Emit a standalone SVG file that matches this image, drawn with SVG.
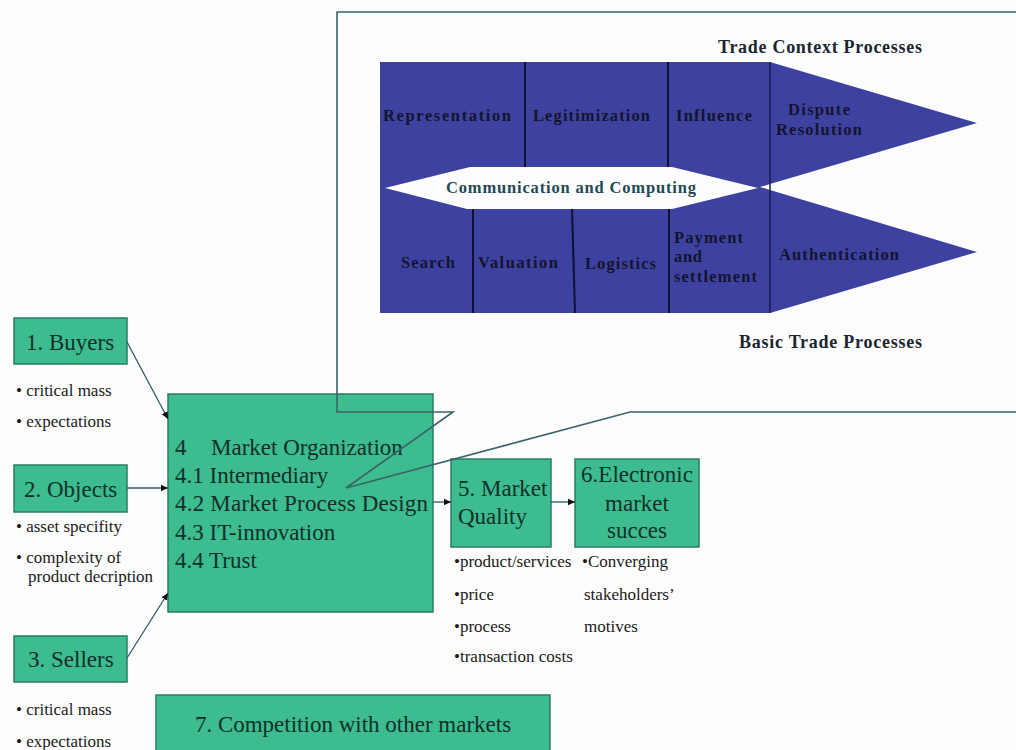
<svg xmlns="http://www.w3.org/2000/svg" width="1016" height="750" viewBox="0 0 1016 750">
<style>
.bg{fill:#fdfdfd}
.blue{fill:#3d42a0}
.div{stroke:#101030;stroke-width:2;fill:none}
.bt{font-family:"Liberation Serif","Times New Roman",serif;font-size:16.5px;font-weight:bold;fill:#14142c}
.hd{font-family:"Liberation Serif","Times New Roman",serif;font-size:18px;font-weight:bold;fill:#1a2630}
.box{fill:#3dbc8f;stroke:#2b7a66;stroke-width:1.5}
.bx{font-family:"Liberation Serif","Times New Roman",serif;font-size:23px;fill:#12302a}
.sm{font-family:"Liberation Serif","Times New Roman",serif;font-size:17px;fill:#1a1a1a}
.frame{fill:none;stroke:#3a6468;stroke-width:1.6}
.con{fill:none;stroke:#2d5a66;stroke-width:1.3}
</style>
<defs>
<marker id="ah" markerWidth="8" markerHeight="8" refX="7" refY="4" orient="auto" markerUnits="userSpaceOnUse">
<path d="M0,0.8 L7,4 L0,7.2 Z" fill="#111"/>
</marker>
</defs>
<rect class="bg" x="0" y="0" width="1016" height="750"/>

<g id="trade-processes">
<path class="blue" d="M380,62 L770,62 L977,123 L770,184 L770,190 L977,252 L770,313 L380,313 Z"/>
<polygon points="770,184 770,190 760,187" fill="#fdfdfd"/>
<line class="div" x1="525" y1="62" x2="525" y2="168"/>
<line class="div" x1="668" y1="62" x2="668" y2="168"/>
<line class="div" x1="473" y1="208" x2="473" y2="313"/>
<line class="div" x1="572" y1="208" x2="575" y2="313"/>
<line class="div" x1="669" y1="208" x2="669" y2="313"/>
<line x1="770" y1="62" x2="770" y2="313" stroke="#1a1a50" stroke-width="1.5"/>
<polygon points="385,188 470,167 672,167 758,188 672,209 467,209" fill="#fdfdfd"/>
<text class="bt" x="383" y="121" textLength="128" lengthAdjust="spacing">Representation</text>
<text class="bt" x="533" y="121" textLength="117" lengthAdjust="spacing">Legitimization</text>
<text class="bt" x="676" y="121" textLength="76" lengthAdjust="spacing">Influence</text>
<text class="bt" x="788" y="115" textLength="62" lengthAdjust="spacing">Dispute</text>
<text class="bt" x="776" y="135" textLength="86" lengthAdjust="spacing">Resolution</text>
<text class="bt" x="446" y="193" textLength="250" lengthAdjust="spacing" style="fill:#1f4a55">Communication and Computing</text>
<text class="bt" x="401" y="268" textLength="54" lengthAdjust="spacing">Search</text>
<text class="bt" x="478" y="268" textLength="80" lengthAdjust="spacing">Valuation</text>
<text class="bt" x="585" y="269" textLength="71" lengthAdjust="spacing">Logistics</text>
<text class="bt" x="674" y="243" textLength="69" lengthAdjust="spacing">Payment</text>
<text class="bt" x="674" y="262" textLength="28" lengthAdjust="spacing">and</text>
<text class="bt" x="674" y="282" textLength="83" lengthAdjust="spacing">settlement</text>
<text class="bt" x="779" y="260" textLength="120" lengthAdjust="spacing">Authentication</text>
<text class="hd" x="718" y="53" textLength="204" lengthAdjust="spacing">Trade Context Processes</text>
<text class="hd" x="739" y="348" textLength="183" lengthAdjust="spacing">Basic Trade Processes</text>
</g>

<g id="buyers">
<rect class="box" x="14" y="318" width="113" height="46"/>
<text class="bx" x="26" y="350">1. Buyers</text>
<text class="sm" x="16" y="396">• critical mass</text>
<text class="sm" x="16" y="427">• expectations</text>
</g>

<g id="objects">
<rect class="box" x="14" y="465" width="113" height="47"/>
<text class="bx" x="24" y="497">2. Objects</text>
<text class="sm" x="16" y="532">• asset specifity</text>
<text class="sm" x="16" y="563">• complexity of</text>
<text class="sm" x="28" y="582">product decription</text>
</g>

<g id="sellers">
<rect class="box" x="14" y="636" width="113" height="46"/>
<text class="bx" x="28" y="667">3. Sellers</text>
<text class="sm" x="16" y="715">• critical mass</text>
<text class="sm" x="16" y="747">• expectations</text>
</g>

<g id="market-organization">
<rect class="box" x="168" y="394" width="265" height="218"/>
<text class="bx" x="175" y="455">4</text>
<text class="bx" x="211" y="455">Market Organization</text>
<text class="bx" x="175" y="483">4.1 Intermediary</text>
<text class="bx" x="175" y="511" textLength="253" lengthAdjust="spacing">4.2 Market Process Design</text>
<text class="bx" x="175" y="540">4.3 IT-innovation</text>
<text class="bx" x="175" y="568">4.4 Trust</text>
</g>

<g id="market-quality">
<rect class="box" x="451" y="459" width="100" height="88"/>
<text class="bx" x="458" y="496">5. Market</text>
<text class="bx" x="458" y="524">Quality</text>
<text class="sm" x="454" y="567">•product/services</text>
<text class="sm" x="454" y="600">•price</text>
<text class="sm" x="454" y="632">•process</text>
<text class="sm" x="454" y="662">•transaction costs</text>
</g>

<g id="market-success">
<rect class="box" x="575" y="459" width="124" height="88"/>
<text class="bx" x="637" y="482" text-anchor="middle">6.Electronic</text>
<text class="bx" x="637" y="511" text-anchor="middle">market</text>
<text class="bx" x="637" y="538" text-anchor="middle">succes</text>
<text class="sm" x="582" y="567">•Converging</text>
<text class="sm" x="584" y="600">stakeholders’</text>
<text class="sm" x="584" y="632">motives</text>
</g>

<g id="competition">
<rect class="box" x="156" y="695" width="394" height="70"/>
<text class="bx" x="353" y="732" text-anchor="middle">7. Competition with other markets</text>
</g>

<g id="callout">
<path class="frame" d="M1016,12 L337,12 L337,412 L453,412 L346,488 L630,412 L1016,412"/>
</g>

<g id="connectors">
<line class="con" x1="127" y1="342" x2="168" y2="419" marker-end="url(#ah)"/>
<line class="con" x1="127" y1="488" x2="168" y2="488" marker-end="url(#ah)"/>
<line class="con" x1="127" y1="658" x2="168" y2="593" marker-end="url(#ah)"/>
<line class="con" x1="433" y1="502" x2="451" y2="502" marker-end="url(#ah)"/>
<line class="con" x1="551" y1="502" x2="575" y2="502" marker-end="url(#ah)"/>
</g>
</svg>
